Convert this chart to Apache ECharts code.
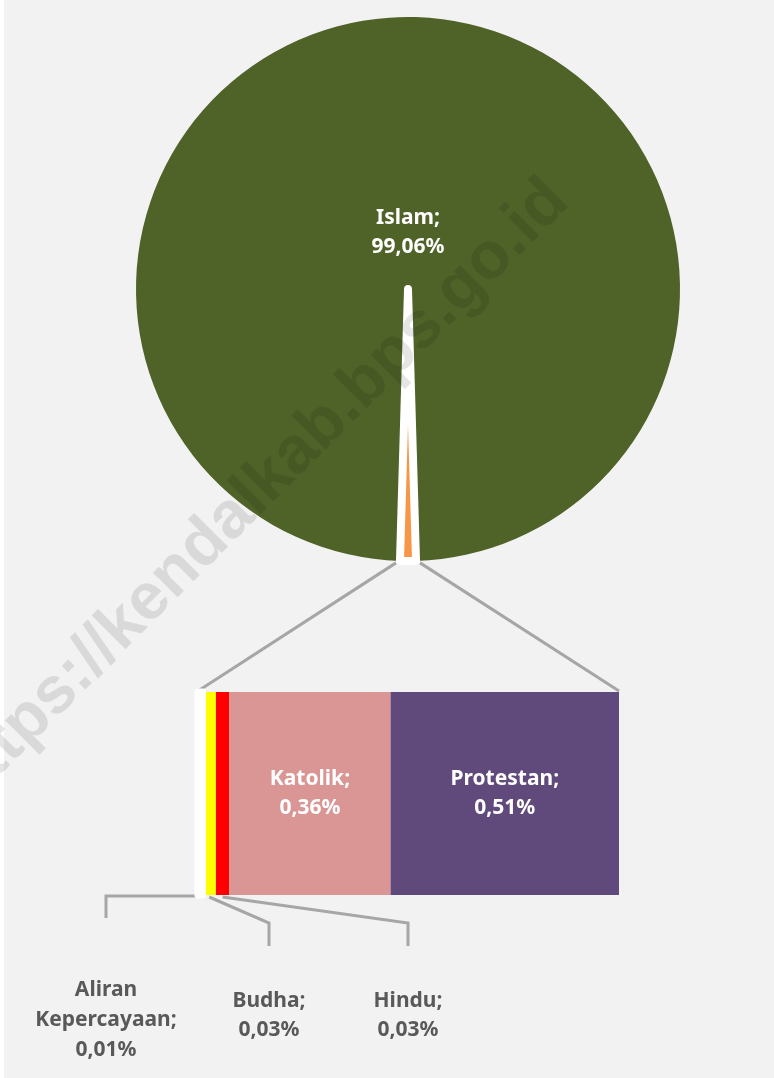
<!DOCTYPE html>
<html>
<head>
<meta charset="utf-8">
<script src="https://cdn.jsdelivr.net/npm/echarts@6/dist/echarts.min.js"></script>
<style>
    html, body { margin: 0; padding: 0; background: #ffffff; }
    #chart { width: 774px; height: 1078px; }
</style>
</head>
<body>
<div id="chart"></div>
<script>
// Persentase penduduk menurut agama (pie of bar)
const pieNames = ['Islam', 'Lainnya'];
const pieValues = [99.06, 0.94];
const barNames = ['Aliran Kepercayaan', 'Budha', 'Hindu', 'Katolik', 'Protestan'];
const barLabelNames = ['Aliran\nKepercayaan', 'Budha', 'Hindu', 'Katolik', 'Protestan'];
const barValues = [0.01, 0.03, 0.03, 0.36, 0.51];

const pieColors = ['#4f6228', '#f79646'];
const barColors = ['#ffffff', '#ffff00', '#ff0000', '#d99694', '#604a7b'];

const fmt = v => v.toFixed(2).replace('.', ',') + '%';

const chart = echarts.init(document.getElementById('chart'));

// geometri
const pieCenter = [408, 289];
const pieRadius = 272;
const sliceBorder = 8;
const gridTop = 692, gridLeft = 198, gridWidth = 421, gridHeight = 203;
const islamLabelY = 233;

const pieTotal = pieValues.reduce((a, b) => a + b, 0);
const barTotal = barValues.reduce((a, b) => a + b, 0);
// potongan kecil menghadap ke bawah
const startAngle = -90 - 180 * pieValues[1] / pieTotal;

const labelFont = {
    fontFamily: '"Noto Sans", sans-serif',
    fontSize: 21,
    fontWeight: 'bold',
    lineHeight: 29
};

const option = {
    backgroundColor: '#f2f2f2',
    animation: false,
    grid: { left: gridLeft, top: gridTop, width: gridWidth, height: gridHeight },
    xAxis: { type: 'value', min: 0, max: barTotal, show: false },
    yAxis: { type: 'category', data: ['Lainnya'], show: false },
    series: [
        {
            type: 'pie',
            center: pieCenter,
            radius: pieRadius,
            startAngle: startAngle,
            clockwise: true,
            silent: true,
            avoidLabelOverlap: false,
            label: { show: false },
            labelLine: { show: false },
            labelLayout: () => ({ x: pieCenter[0], y: islamLabelY, align: 'center', verticalAlign: 'middle' }),
            data: pieNames.map((n, i) => ({
                name: n,
                value: pieValues[i],
                itemStyle: i === 0
                    ? { color: pieColors[i] }
                    : { color: pieColors[i], borderColor: '#ffffff', borderWidth: sliceBorder, borderJoin: 'round' },
                label: i === 0 ? Object.assign({
                    show: true,
                    position: 'inside',
                    color: '#ffffff',
                    formatter: p => p.name + ';\n' + fmt(p.value)
                }, labelFont) : { show: false }
            })),
            z: 1
        }
    ].concat(barNames.map((n, i) => ({
        type: 'bar',
        name: n,
        stack: 'lainnya',
        data: [barValues[i]],
        barWidth: '100%',
        silent: true,
        itemStyle: { color: barColors[i] },
        label: i >= 3 ? Object.assign({
            show: true,
            position: 'inside',
            color: '#ffffff',
            formatter: () => barLabelNames[i] + ';\n' + fmt(barValues[i])
        }, labelFont) : { show: false },
        z: 2
    })))
};

chart.setOption(option);

// garis penghubung dan label luar dihitung dari skala
const px = v => chart.convertToPixel({ gridIndex: 0 }, [v, 0])[0];
const halfAng = Math.PI * pieValues[1] / pieTotal;
const cornerY = pieCenter[1] + pieRadius * Math.cos(halfAng) + 2;
const cornerDx = pieRadius * Math.sin(halfAng) + sliceBorder / 2;
const barBottom = gridTop + gridHeight;

const lineStyle = { stroke: '#a6a6a6', lineWidth: 3, fill: null };
const outline = 3.5; // garis tepi putih segmen pertama
const graphics = [
    { type: 'rect', shape: { x: 0, y: 0, width: 4, height: 1078 }, style: { fill: '#ffffff' }, z: 50 },
    { type: 'polyline', shape: { points: [[pieCenter[0] - cornerDx, cornerY], [px(0), gridTop - 1]] }, style: lineStyle, z: 0 },
    { type: 'polyline', shape: { points: [[pieCenter[0] + cornerDx, cornerY], [px(barTotal), gridTop - 1]] }, style: lineStyle, z: 0 },
    {
        type: 'rect',
        shape: {
            x: px(0) - outline,
            y: gridTop - outline,
            width: px(barValues[0]) - px(0) + outline * 2,
            height: gridHeight + outline * 2,
            r: 3
        },
        style: { fill: barColors[0] },
        z: 10
    }
];

// posisi label luar (tata letak)
const outerLabelX = [106, 269, 408];
const outerLabelTop = [975, 987, 987];
const elbowY = [896, 923, 923];
const elbowEnd = [918, 946, 946];
let cum = 0;
for (let i = 0; i < 3; i++) {
    const mid = px(cum + barValues[i] / 2);
    cum += barValues[i];
    const startY = i === 0 ? barBottom + 1 : barBottom + 2;
    graphics.push({
        type: 'polyline',
        shape: { points: [[mid, startY], [outerLabelX[i], elbowY[i]], [outerLabelX[i], elbowEnd[i]]] },
        style: lineStyle,
        z: 0
    });
    graphics.push({
        type: 'text',
        x: outerLabelX[i],
        y: outerLabelTop[i],
        style: {
            text: barLabelNames[i] + ';\n' + fmt(barValues[i]),
            fill: '#595959',
            font: 'bold 21px "Noto Sans", sans-serif',
            lineHeight: i === 0 ? 30 : 29,
            align: 'center',
            verticalAlign: 'top'
        },
        z: 5
    });
}

// watermark
graphics.push({
    type: 'text',
    x: 256,
    y: 493,
    rotation: Math.PI / 4,
    style: {
        text: 'https://kendalkab.bps.go.id',
        fill: 'rgba(0,0,0,0.1)',
        font: 'bold 66px "Liberation Sans", Arial, sans-serif',
        align: 'center',
        verticalAlign: 'middle'
    },
    z: 100
});

chart.setOption({ graphic: graphics });
</script>
</body>
</html>
